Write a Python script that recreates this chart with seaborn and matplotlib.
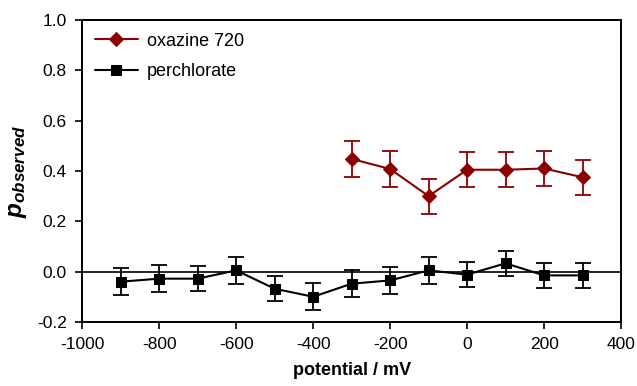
import matplotlib
matplotlib.use("Agg")
import matplotlib.pyplot as plt
import seaborn as sns
import pandas as pd

perc_x = [-900, -800, -700, -600, -500, -400, -300, -200, -100, 0, 100, 200, 300]
perc_y = [-0.04, -0.028, -0.028, 0.005, -0.068, -0.10, -0.048, -0.035, 0.005, -0.012, 0.033, -0.015, -0.015]
perc_err = [0.053, 0.053, 0.05, 0.053, 0.05, 0.053, 0.053, 0.053, 0.053, 0.05, 0.05, 0.05, 0.05]

oxa_x = [-300, -200, -100, 0, 100, 200, 300]
oxa_y = [0.448, 0.408, 0.30, 0.405, 0.405, 0.41, 0.375]
oxa_err = [0.07, 0.07, 0.07, 0.07, 0.07, 0.07, 0.07]

red = "#8b0000"

sns.set_style("ticks")
plt.rcParams['font.family'] = ['Liberation Sans', 'DejaVu Sans']
plt.rcParams['mathtext.fontset'] = 'custom'
plt.rcParams['mathtext.it'] = 'Liberation Sans:bold:italic'
plt.rcParams['mathtext.rm'] = 'Liberation Sans:bold'
plt.rcParams['axes.unicode_minus'] = False
plt.rcParams['text.color'] = 'black'
plt.rcParams['axes.labelcolor'] = 'black'
plt.rcParams['xtick.color'] = 'black'
plt.rcParams['ytick.color'] = 'black'

fig = plt.figure(figsize=(6.37, 3.86), dpi=100)
ax = fig.add_axes([0.129, 0.166, 0.846, 0.782])

oxa = pd.DataFrame({"x": oxa_x, "y": oxa_y})
perc = pd.DataFrame({"x": perc_x, "y": perc_y})

ax.axhline(0, color="black", lw=1.2, zorder=1)

sns.lineplot(data=oxa, x="x", y="y", ax=ax, color=red, marker="D", markersize=7,
             markeredgecolor=red, lw=1.5, label="oxazine 720", zorder=3)
sns.lineplot(data=perc, x="x", y="y", ax=ax, color="black", marker="s", markersize=6.5,
             markeredgecolor="black", lw=1.5, label="perchlorate", zorder=3)

ax.errorbar(oxa_x, oxa_y, yerr=oxa_err, fmt="none", ecolor=red, elinewidth=1.3,
            capsize=6, capthick=1.3, zorder=2)
ax.errorbar(perc_x, perc_y, yerr=perc_err, fmt="none", ecolor="black", elinewidth=1.3,
            capsize=6, capthick=1.3, zorder=2)

ax.set_xlim(-1000, 400)
ax.set_ylim(-0.2, 1.0)
ax.set_xticks(range(-1000, 401, 200))
ax.set_yticks([-0.2, 0.0, 0.2, 0.4, 0.6, 0.8, 1.0])
ax.set_yticklabels([f"{v:.1f}" for v in [-0.2, 0.0, 0.2, 0.4, 0.6, 0.8, 1.0]])
ax.tick_params(labelsize=12.5, direction="out", length=5, width=1.2, pad=6)

for s in ax.spines.values():
    s.set_linewidth(1.4)
    s.set_visible(True)
    s.set_color("black")

ax.set_xlabel("potential / mV", fontsize=13, fontweight="bold", labelpad=7)
ax.set_ylabel(r"$p_{observed}$", fontsize=17.5, labelpad=6)

ax.legend(loc="upper left", frameon=False, fontsize=13, handlelength=2.4,
          borderaxespad=0.3, labelspacing=0.75, handletextpad=0.5)

fig.savefig("out.png", dpi=100)
